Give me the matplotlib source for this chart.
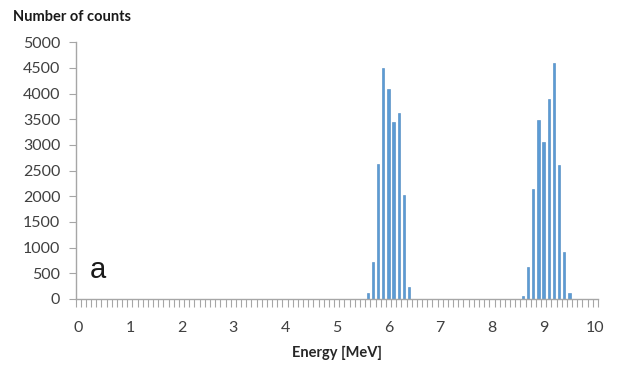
import numpy as np
import matplotlib
matplotlib.use("Agg")
import matplotlib.pyplot as plt

# Energy bins (MeV) of the two alpha peaks and their counts
peak1_energy = [5.6, 5.7, 5.8, 5.9, 6.0, 6.1, 6.2, 6.3, 6.4]
peak1_counts = [110, 720, 2620, 4500, 4080, 3450, 3620, 2020, 240]
peak2_energy = [8.6, 8.7, 8.8, 8.9, 9.0, 9.1, 9.2, 9.3, 9.4, 9.5]
peak2_counts = [50, 620, 2150, 3490, 3050, 3890, 4590, 2600, 910, 110]
x_ticks = [0, 1, 2, 3, 4, 5, 6, 7, 8, 9, 10]
y_ticks = [0, 500, 1000, 1500, 2000, 2500, 3000, 3500, 4000, 4500, 5000]

font = ["Lato", "DejaVu Sans"]
plt.rcParams["font.family"] = font

fig = plt.figure(figsize=(6.19, 3.70), dpi=100)
ax = fig.add_axes([0.122, 0.192, 0.844, 0.694])

bar_color = "#5B9BD5"
ax.bar(peak1_energy, peak1_counts, width=0.045, color=bar_color,
       edgecolor="#4A86BF", linewidth=0.4)
ax.bar(peak2_energy, peak2_counts, width=0.045, color=bar_color,
       edgecolor="#4A86BF", linewidth=0.4)

ax.set_xlim(-0.05, 10.05)
ax.set_ylim(0, 5000)

axis_gray = "#A6A6A6"
for side in ["top", "right"]:
    ax.spines[side].set_visible(False)
for side in ["left", "bottom"]:
    ax.spines[side].set_color(axis_gray)
    ax.spines[side].set_linewidth(1.0)

# category boundaries as tick marks, integer labels without marks
ax.set_xticks(x_ticks)
ax.set_xticklabels([str(v) for v in x_ticks])
ax.set_xticks(np.arange(-0.05, 10.06, 0.1), minor=True)
ax.tick_params(axis="x", which="major", length=0, pad=16,
               labelsize=11.5, labelcolor="#404040")
ax.tick_params(axis="x", which="minor", length=6, width=0.8,
               color=axis_gray, direction="out")

ax.set_yticks(y_ticks)
ax.set_yticklabels([str(v) for v in y_ticks])
ax.tick_params(axis="y", length=5, width=0.8, color=axis_gray,
               labelsize=11.5, labelcolor="#404040", pad=6)

ax.set_xlabel("Energy [MeV]", fontsize=10.5, fontweight="bold",
              color="#262626", labelpad=8)
fig.text(0.021, 0.955, "Number of counts", fontsize=10.5,
         fontweight="bold", color="#1a1a1a", va="center", ha="left")

ax.text(0.22, 560, "a", fontsize=21, color="#1a1a1a",
        family=["Liberation Sans", "DejaVu Sans"],
        ha="left", va="center")

fig.savefig("out.png", dpi=100)
